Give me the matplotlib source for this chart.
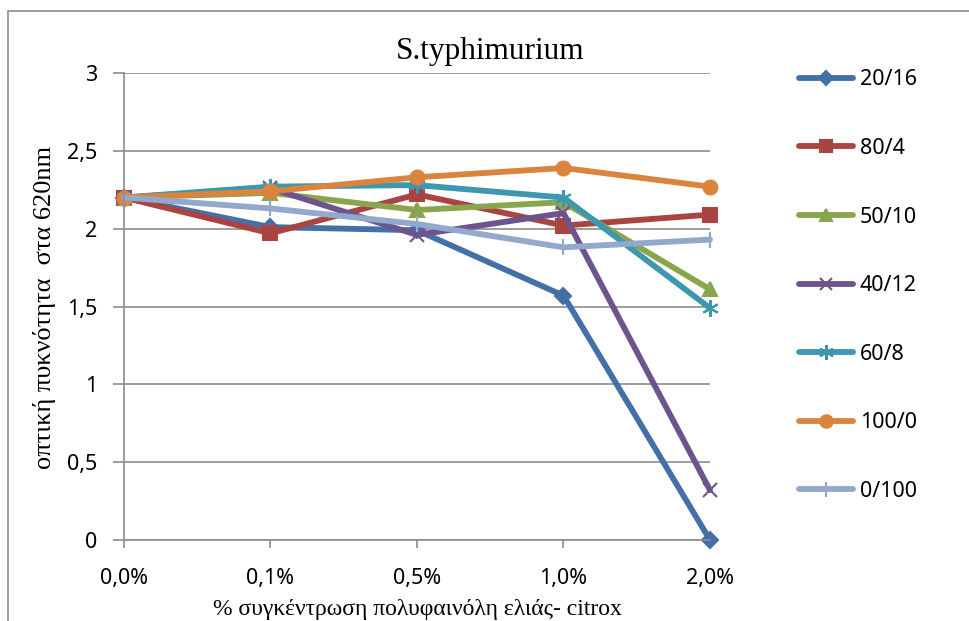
import matplotlib
matplotlib.use("Agg")
import matplotlib.pyplot as plt
from matplotlib.patches import Rectangle

categories = ["0,0%", "0,1%", "0,5%", "1,0%", "2,0%"]
s_20_16 = [2.20, 2.01, 1.99, 1.57, 0.00]
s_80_4 = [2.20, 1.97, 2.22, 2.02, 2.09]
s_50_10 = [2.20, 2.23, 2.12, 2.17, 1.61]
s_40_12 = [2.20, 2.26, 1.96, 2.10, 0.32]
s_60_8 = [2.20, 2.27, 2.28, 2.20, 1.49]
s_100_0 = [2.20, 2.24, 2.33, 2.39, 2.27]
s_0_100 = [2.20, 2.13, 2.03, 1.88, 1.93]
y_ticks = [0, 0.5, 1, 1.5, 2, 2.5, 3]
y_tick_labels = ["0", "0,5", "1", "1,5", "2", "2,5", "3"]

series = [
    ("20/16", s_20_16, "#4470A8", "D", 8),
    ("80/4", s_80_4, "#AA4441", "s", 10),
    ("50/10", s_50_10, "#89A54E", "^", 10),
    ("40/12", s_40_12, "#6E548D", "x", 10),
    ("60/8", s_60_8, "#3D97AE", (6, 2, 0), 12),
    ("100/0", s_100_0, "#DB843D", "o", 10),
    ("0/100", s_0_100, "#92A8CD", "|", 12),
]

W, H = 970, 621
fig = plt.figure(figsize=(W / 100, H / 100), dpi=100)
fig.patches.append(Rectangle((8 / W, -0.1), 1.2, 1.1 - 11 / H, transform=fig.transFigure,
                             fill=False, edgecolor="#8c8c8c", linewidth=1.2))

left, right, top, bottom = 124, 710, 73, 540
ax = fig.add_axes([left / W, 1 - bottom / H, (right - left) / W, (bottom - top) / H])
x = list(range(len(categories)))

for name, vals, color, marker, ms in series:
    ax.plot(x, vals, color=color, lw=4.2, marker=marker, ms=ms, mew=1.5,
            mfc=color, mec=color, label=name, solid_capstyle="round", clip_on=False)

ax.set_xlim(0, len(categories) - 1)
ax.set_ylim(0, 3)
ax.set_yticks(y_ticks)
ax.set_yticklabels(y_tick_labels, fontsize=15.5, family="Noto Sans")
ax.set_xticks(x)
ax.set_xticklabels(categories, fontsize=15.5, family="Noto Sans")
ax.grid(axis="y", color="#8c8c8c", lw=1.2)
ax.set_axisbelow(True)
for s in ["top", "right"]:
    ax.spines[s].set_visible(False)
for s in ["left", "bottom"]:
    ax.spines[s].set_color("#8c8c8c")
    ax.spines[s].set_linewidth(1.2)
ax.tick_params(axis="y", length=8, width=1.2, color="#8c8c8c", pad=11)
ax.tick_params(axis="x", length=6, width=1.2, color="#8c8c8c", pad=14)

fig.text(490 / W, 1 - 52 / H, "S.typhimurium", ha="center", va="center",
         fontsize=22.5, family="Liberation Serif")
fig.text(45 / W, 1 - 307 / H, "οπτική πυκνότητα  στα 620nm", ha="center", va="center",
         rotation=90, fontsize=19, family="Liberation Serif")
fig.text(417 / W, 1 - 609 / H, "% συγκέντρωση πολυφαινόλη ελιάς- citrox", ha="center",
         va="center", fontsize=17, family="Liberation Serif")

leg = fig.legend(loc="upper left", bbox_to_anchor=(780 / W, 1 - 50 / H), frameon=False,
                 prop={"family": "Noto Sans", "size": 15.5}, labelspacing=2.21,
                 handlelength=2.5, handletextpad=0.3, markerscale=0.9)

fig.savefig("out.png", dpi=100)
